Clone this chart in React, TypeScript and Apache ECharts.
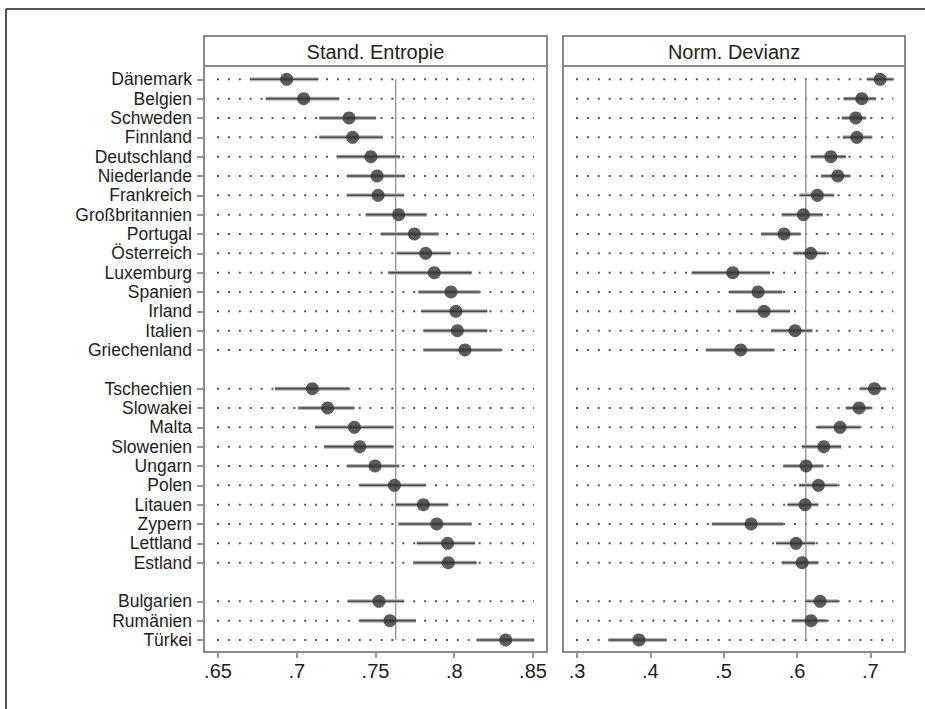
import React, { useEffect, useRef } from 'react';
import * as echarts from 'echarts';

// ---------- data ----------
const groupEU15 = ['Dänemark', 'Belgien', 'Schweden', 'Finnland', 'Deutschland', 'Niederlande', 'Frankreich', 'Großbritannien', 'Portugal', 'Österreich', 'Luxemburg', 'Spanien', 'Irland', 'Italien', 'Griechenland'];
const groupNMS10 = ['Tschechien', 'Slowakei', 'Malta', 'Slowenien', 'Ungarn', 'Polen', 'Litauen', 'Zypern', 'Lettland', 'Estland'];
const groupCand3 = ['Bulgarien', 'Rumänien', 'Türkei'];

const entropyMean = [0.6936, 0.7044, 0.7332, 0.7355, 0.7471, 0.7510, 0.7516, 0.7647, 0.7747, 0.7819, 0.7873, 0.7979, 0.8011, 0.8020, 0.8068,
  0.7099, 0.7196, 0.7366, 0.7400, 0.7497, 0.7620, 0.7804, 0.7889, 0.7958, 0.7962,
  0.7522, 0.7592, 0.8327];
const entropyLow = [0.6703, 0.6803, 0.7143, 0.7143, 0.7253, 0.7317, 0.7317, 0.7438, 0.7535, 0.7634, 0.7581, 0.7772, 0.7789, 0.7804, 0.7804,
  0.6862, 0.7010, 0.7116, 0.7173, 0.7317, 0.7397, 0.7630, 0.7645, 0.7762, 0.7740,
  0.7323, 0.7397, 0.8142];
const entropyHigh = [0.7137, 0.7270, 0.7503, 0.7546, 0.7656, 0.7687, 0.7681, 0.7825, 0.7901, 0.7977, 0.8111, 0.8163, 0.8210, 0.8210, 0.8301,
  0.7334, 0.7366, 0.7613, 0.7613, 0.7651, 0.7821, 0.7962, 0.8111, 0.8132, 0.8142,
  0.7681, 0.7757, 0.8508];

const devianzMean = [0.7134, 0.6884, 0.6802, 0.6816, 0.6461, 0.6556, 0.6278, 0.6088, 0.5824, 0.6188, 0.5124, 0.5469, 0.5551, 0.5974, 0.5233,
  0.7056, 0.6847, 0.6588, 0.6365, 0.6124, 0.6292, 0.6111, 0.5374, 0.5988, 0.6070,
  0.6315, 0.6192, 0.3846];
const devianzLow = [0.6952, 0.6634, 0.6611, 0.6625, 0.6188, 0.6329, 0.6033, 0.5792, 0.5510, 0.5951, 0.4564, 0.5087, 0.5169, 0.5647, 0.4756,
  0.6861, 0.6666, 0.6270, 0.6065, 0.5815, 0.6029, 0.5870, 0.4838, 0.5715, 0.5792,
  0.6111, 0.5929, 0.3427];
const devianzHigh = [0.7316, 0.7079, 0.6943, 0.7020, 0.6666, 0.6725, 0.6506, 0.6352, 0.6051, 0.6397, 0.5633, 0.5801, 0.5906, 0.6210, 0.5692,
  0.7215, 0.7007, 0.6861, 0.6602, 0.6361, 0.6551, 0.6292, 0.5815, 0.6247, 0.6292,
  0.6565, 0.6406, 0.4223];

const referenceValues = [0.7628, 0.612];
const entropyTicks = [0.65, 0.7, 0.75, 0.8, 0.85];
const devianzTicks = [0.3, 0.4, 0.5, 0.6, 0.7];
const panelTitles = ['Stand. Entropie', 'Norm. Devianz'];

// ---------- derived ----------
const rows: string[] = [...groupEU15, ' ', ...groupNMS10, '  ', ...groupCand3];
const countries = [...groupEU15, ...groupNMS10, ...groupCand3];
const rowIndexOf = (name: string) => rows.indexOf(name);

const FONT = "'Liberation Sans', Arial, Helvetica, sans-serif";

const panels = [
  { mean: entropyMean, low: entropyLow, high: entropyHigh, ref: referenceValues[0], ticks: entropyTicks, min: 0.6411, max: 0.8589, dots: [0.65, 0.85], left: 204, width: 343 },
  { mean: devianzMean, low: devianzLow, high: devianzHigh, ref: referenceValues[1], ticks: devianzTicks, min: 0.2809, max: 0.7473, dots: [0.3, 0.73], left: 563, width: 342 },
];

const GRID_TOP = 69.63;
const GRID_H = 580;
const FRAME_TOP = 66;
const FRAME_BOTTOM = 652;
const HEADER_TOP = 36;

const fmt = (v: number) => {
  const s = String(Math.round(v * 100) / 100);
  return s.replace(/^0/, '');
};

function buildOption() {
  const series: any[] = [];
  panels.forEach((p, pi) => {
    // dotted row guides
    series.push({
      type: 'custom',
      xAxisIndex: pi,
      yAxisIndex: pi,
      silent: true,
      z: 1,
      encode: { x: [0, 1], y: 2 },
      data: countries.map((c) => [p.dots[0], p.dots[1], rowIndexOf(c)]),
      renderItem: (params: any, api: any) => {
        const a = api.coord([api.value(0), api.value(2)]);
        const b = api.coord([api.value(1), api.value(2)]);
        return {
          type: 'line',
          shape: { x1: a[0] - 1, y1: a[1], x2: b[0] + 1, y2: b[1] },
          style: { stroke: '#555', lineWidth: 2, lineDash: [2, 8.9], lineCap: 'butt' },
        };
      },
    });
    // reference line
    series.push({
      type: 'custom',
      xAxisIndex: pi,
      yAxisIndex: pi,
      silent: true,
      z: 2,
      encode: { x: 0, y: [1, 2] },
      data: [[p.ref, rowIndexOf(countries[0]), rowIndexOf(countries[countries.length - 1])]],
      renderItem: (params: any, api: any) => {
        const a = api.coord([api.value(0), api.value(1)]);
        const b = api.coord([api.value(0), api.value(2)]);
        return {
          type: 'line',
          shape: { x1: a[0], y1: a[1], x2: b[0], y2: b[1] },
          style: { stroke: '#9a9a9a', lineWidth: 1.5 },
        };
      },
    });
    // confidence bars
    series.push({
      type: 'custom',
      xAxisIndex: pi,
      yAxisIndex: pi,
      silent: true,
      z: 3,
      encode: { x: [0, 1], y: 2 },
      data: countries.map((c, i) => [p.low[i], p.high[i], rowIndexOf(c)]),
      renderItem: (params: any, api: any) => {
        const a = api.coord([api.value(0), api.value(2)]);
        const b = api.coord([api.value(1), api.value(2)]);
        return {
          type: 'group',
          children: [
            { type: 'line', shape: { x1: a[0], y1: a[1], x2: b[0], y2: b[1] }, style: { stroke: '#b4b4b4', lineWidth: 4 } },
            { type: 'line', shape: { x1: a[0], y1: a[1], x2: b[0], y2: b[1] }, style: { stroke: '#4a4a4a', lineWidth: 1.6 } },
          ],
        };
      },
    });
    // point estimates
    series.push({
      type: 'scatter',
      xAxisIndex: pi,
      yAxisIndex: pi,
      z: 4,
      symbol: 'circle',
      symbolSize: 13,
      itemStyle: { color: '#333333' },
      data: countries.map((c, i) => [p.mean[i], rowIndexOf(c)]),
    });
  });

  const graphic: any[] = [
    { type: 'line', shape: { x1: 6, y1: 9, x2: 925, y2: 9 }, style: { stroke: '#1a1a1a', lineWidth: 1.5 } },
    { type: 'line', shape: { x1: 6, y1: 9, x2: 6, y2: 709 }, style: { stroke: '#1a1a1a', lineWidth: 1.5 } },
  ];
  panels.forEach((p, pi) => {
    graphic.push({
      type: 'rect',
      shape: { x: p.left, y: HEADER_TOP, width: p.width, height: FRAME_TOP - HEADER_TOP },
      style: { fill: 'none', stroke: '#8a8a8a', lineWidth: 2 },
      z: 10,
    });
    graphic.push({
      type: 'rect',
      shape: { x: p.left, y: FRAME_TOP, width: p.width, height: FRAME_BOTTOM - FRAME_TOP },
      style: { fill: 'none', stroke: '#8a8a8a', lineWidth: 2 },
      z: 10,
    });
    graphic.push({
      type: 'text',
      x: p.left + p.width / 2,
      y: (HEADER_TOP + FRAME_TOP) / 2 + 1,
      style: { text: panelTitles[pi], fontSize: 20, fontFamily: FONT, fill: '#1e1e1e', align: 'center', verticalAlign: 'middle' },
      z: 10,
    });
  });

  return {
    animation: false,
    backgroundColor: '#fff',
    grid: panels.map((p) => ({ left: p.left, top: GRID_TOP, width: p.width, height: GRID_H, containLabel: false })),
    xAxis: panels.map((p, pi) => ({
      type: 'value',
      gridIndex: pi,
      min: p.min,
      max: p.max,
      offset: FRAME_BOTTOM - (GRID_TOP + GRID_H),
      axisLine: { show: false },
      splitLine: { show: false },
      axisTick: { show: true, length: 6, customValues: p.ticks, lineStyle: { color: '#777', width: 1.5 } },
      axisLabel: { customValues: p.ticks, formatter: fmt, fontSize: 20, fontFamily: FONT, color: '#1e1e1e', margin: 9 },
    })),
    yAxis: panels.map((p, pi) => ({
      type: 'category',
      gridIndex: pi,
      data: rows,
      inverse: true,
      axisLine: { show: false },
      splitLine: { show: false },
      axisTick: {
        show: pi === 0,
        length: 7,
        alignWithLabel: true,
        interval: (i: number, v: string) => v.trim() !== '',
        lineStyle: { color: '#777', width: 1.5 },
      },
      axisLabel: { show: pi === 0, interval: 0, fontSize: 17.5, lineHeight: 17, fontFamily: FONT, color: '#1e1e1e', margin: 12 },
    })),
    series,
    graphic,
  };
}

export default function App() {
  const ref = useRef<HTMLDivElement>(null);
  useEffect(() => {
    if (!ref.current) return;
    const chart = echarts.init(ref.current, undefined, { renderer: 'svg' });
    chart.setOption(buildOption() as any);
    return () => chart.dispose();
  }, []);
  return <div ref={ref} style={{ position: 'fixed', left: 0, top: 0, width: 925, height: 709, background: '#fff' }} />;
}
